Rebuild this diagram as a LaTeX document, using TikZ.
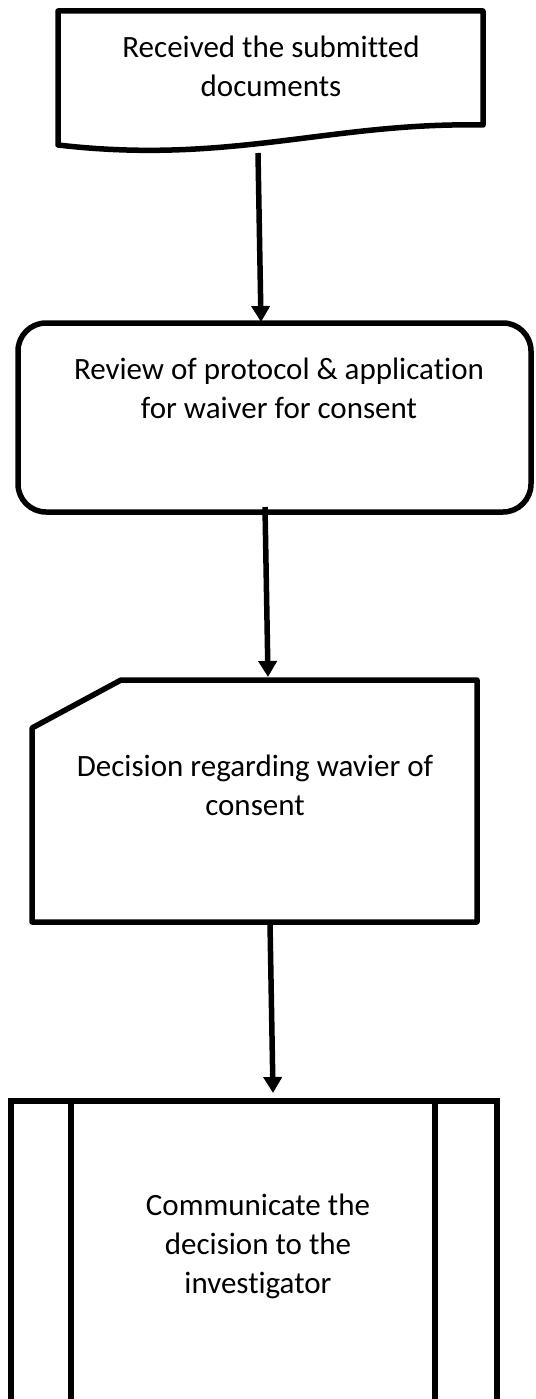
\documentclass[tikz,border=0pt]{standalone}
\usepackage{fontspec}
\setmainfont{Carlito}[Ligatures=NoCommon]
\usetikzlibrary{arrows.meta}
\begin{document}
\begin{tikzpicture}[x=1pt,y=-1pt,
  shapeline/.style={draw=black, line width=5.5pt, line join=round},
  flow/.style={draw=black, line width=5.5pt, -{Triangle[width=18pt,length=16pt]}},
  lbl/.style={anchor=base, inner sep=0pt, font=\fontsize{31}{39}\selectfont}]
\useasboundingbox (0,0) rectangle (535,1399);
% shape 1: document
\draw[shapeline] (58,145) -- (58,11) -- (483,11) -- (483,125)
  .. controls (330,122) and (230,165) .. (58,145) -- cycle;
\node[lbl] (t1) at (271,58) {\begin{tabular}[t]{@{}c@{}}Received the submitted\\documents\end{tabular}};
% shape 2: rounded rectangle
\draw[shapeline, rounded corners=28pt] (18,323) rectangle (531,512);
\node[lbl] (t2) at (279,379) {\begin{tabular}[t]{@{}c@{}}Review of protocol \& application\\for waiver for consent\end{tabular}};
% shape 3: card
\draw[shapeline] (121,680) -- (477,680) -- (477,922) -- (32,922) -- (32,728) -- cycle;
\node[lbl] (t3) at (255,776) {\begin{tabular}[t]{@{}c@{}}Decision regarding wavier of\\consent\end{tabular}};
% shape 4: predefined process (cut off at the bottom)
\draw[shapeline, line join=miter] (11,1410) -- (11,1101) -- (497,1101) -- (497,1410);
\draw[shapeline] (71,1101) -- (71,1410);
\draw[shapeline] (435,1101) -- (435,1410);
\node[lbl] (t4) at (258,1215) {\begin{tabular}[t]{@{}c@{}}Communicate the\\decision to the\\investigator\end{tabular}};
% connector end points
\coordinate (s1b) at (258,153);
\coordinate (s2t) at (261,322);
\coordinate (s2b) at (265,507);
\coordinate (s3t) at (268,677);
\coordinate (s3b) at (270,923);
\coordinate (s4t) at (273,1093);
\draw[flow] (s1b) -- (s2t);
\draw[flow] (s2b) -- (s3t);
\draw[flow] (s3b) -- (s4t);
\end{tikzpicture}
\end{document}
